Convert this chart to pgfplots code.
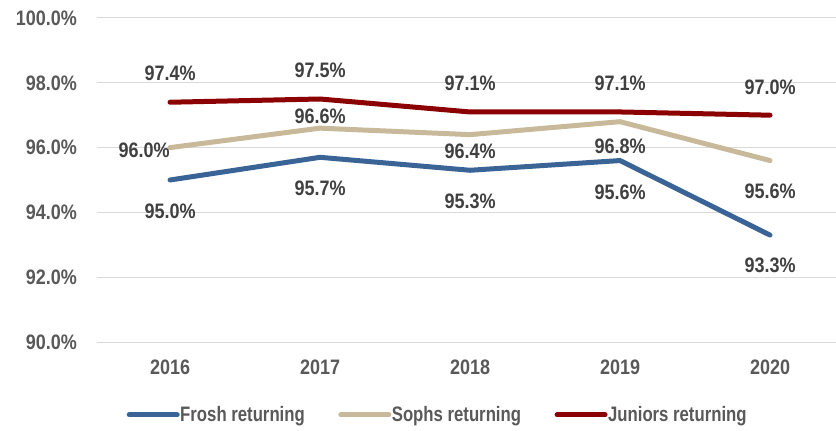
\documentclass[border=0pt]{standalone}
\usepackage{pgfplots}
\pgfplotsset{compat=1.18}
\usepackage{pgfplotstable}
\usepackage{fontspec}
\setmainfont{Liberation Sans}[FakeStretch=0.86]
\newfontfamily\legfont{Liberation Sans}[FakeStretch=0.80]
\definecolor{frosh}{HTML}{3A6496}
\definecolor{sophs}{HTML}{C8B99A}
\definecolor{juniors}{HTML}{8B0000}
\definecolor{lbl}{HTML}{404040}
\definecolor{tck}{HTML}{595959}
\definecolor{grd}{HTML}{D9D9D9}

\pgfplotstableread{
x y dx dy
0 95.0 0 -31
1 95.7 0 -31
2 95.3 0 -31
3 95.6 0 -32
4 93.3 0 -30
}\froshdata
\pgfplotstableread{
x y dx dy
0 96.0 -26 -3
1 96.6 0 12
2 96.4 0 -17
3 96.8 0 -25
4 95.6 0 -31
}\sophsdata
\pgfplotstableread{
x y dx dy
0 97.4 0 29
1 97.5 0 29
2 97.1 0 29
3 97.1 0 29
4 97.0 0 28
}\juniorsdata

\pgfplotsset{
  lbls/.style={draw=none, no marks, forget plot, point meta=y,
    visualization depends on={\thisrow{dx} \as \dx},
    visualization depends on={\thisrow{dy} \as \dy},
    nodes near coords={\pgfmathprintnumber[fixed,fixed zerofill,precision=1]{\pgfplotspointmeta}\%},
    nodes near coords style={font=\bfseries\fontsize{21}{24}\selectfont, text=lbl, anchor=center, inner sep=0pt,
      xshift=\dx bp, yshift=\dy bp}},
  ser/.style={#1, line width=5bp, line cap=round, line join=round, no marks},
}

\begin{document}
\begin{tikzpicture}
\useasboundingbox (0,0) rectangle (836bp,431bp);
\begin{axis}[
  scale only axis, width=739bp, height=324bp,
  at={(97bp,89bp)}, anchor=south west,
  xmin=-0.487, xmax=4.44, ymin=90, ymax=100,
  xtick={0,1,2,3,4}, xticklabels={2016,2017,2018,2019,2020},
  ytick={90,92,94,96,98,100},
  /pgf/number format/assume math mode=true,
  yticklabel={\pgfmathprintnumber[fixed,fixed zerofill,precision=1]{\tick}\%},
  axis line style={draw=none},
  major tick length=0pt,
  ymajorgrids, grid style={color=grd, line width=1bp},
  tick label style={font=\bfseries\fontsize{21}{24}\selectfont, text=tck},
  yticklabel style={anchor=east, inner sep=0pt, xshift=-20bp},
  xticklabel style={anchor=north, inner sep=0pt, yshift=-18bp},
  legend style={draw=none, fill=none, at={(0.46,-0.225)}, anchor=center,
    legend columns=3, font=\legfont\bfseries\fontsize{21}{24}\selectfont, text=tck,
    /tikz/every even column/.append style={column sep=33bp},
    nodes={inner sep=0.5bp}},
  legend image code/.code={\draw[#1, line width=5bp, line cap=round] (2.5bp,0bp) -- (50.5bp,0bp);},
  clip=false,
]
\addplot[ser=frosh] table[x=x,y=y] {\froshdata};
\addlegendentry{Frosh returning}
\addplot[ser=sophs] table[x=x,y=y] {\sophsdata};
\addlegendentry{Sophs returning}
\addplot[ser=juniors] table[x=x,y=y] {\juniorsdata};
\addlegendentry{Juniors returning}

\addplot[lbls] table[x=x,y=y] {\froshdata};
\addplot[lbls] table[x=x,y=y] {\sophsdata};
\addplot[lbls] table[x=x,y=y] {\juniorsdata};
\end{axis}
\end{tikzpicture}
\end{document}
